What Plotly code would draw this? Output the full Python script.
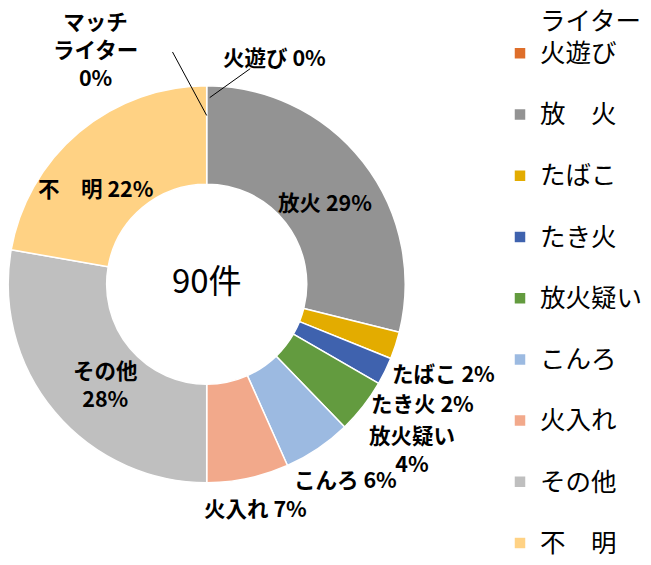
import plotly.graph_objects as go

# ---- data ----
categories = ["マッチライター", "火遊び", "放火", "たばこ", "たき火", "放火疑い", "こんろ", "火入れ", "その他", "不明"]
counts = [0, 0, 26, 2, 2, 4, 5, 6, 25, 20]
total_label = "90件"
# legend text as it appears (the first entry's top line is cut off in the picture)
legend_names = ["ライター", "火遊び", "放　火", "たばこ", "たき火", "放火疑い", "こんろ", "火入れ", "その他", "不　明"]
# slice label text
slice_names = ["マッチ<br>ライター", "火遊び", "放火", "たばこ", "たき火", "放火疑い", "こんろ", "火入れ", "その他", "不　明"]
slice_seps = ["<br>", " ", " ", " ", " ", "<br>", " ", " ", "<br>", " "]
colors = ["rgba(0,0,0,0)", "#DE6E2A", "#939393", "#E3AC00", "#3F62AE", "#639B3F",
          "#9CBAE1", "#F2A98B", "#BFBFBF", "#FFD284"]

FONT = "Noto Sans CJK JP"
W, H = 651, 565

# pie geometry (pixels)
cx_px, cy_px, r_px = 206.7, 284.2, 198.5
dom_x = [(cx_px - r_px) / W, (cx_px + r_px) / W]
dom_y = [(H - cy_px - r_px) / H, (H - cy_px + r_px) / H]

# label placement (pixel centres, as the reference places them)
label_xy = [(95, 49), (274, 57), (325, 201), (443, 372), (422, 402), (412, 448),
            (345, 478), (255, 507), (105, 383), (96, 187)]


def paper(px, py):
    return px / W, 1 - py / H


n = len(categories)
labels = []
for i, name in enumerate(legend_names):
    span = f'<span style="font-size:25.5px">{name}</span>'
    labels.append(span if i < 2 else "&nbsp;<br>" + span)

fig = go.Figure(go.Pie(
    labels=labels,
    values=counts,
    customdata=categories,
    hovertemplate="%{customdata}: %{value}件 (%{percent})<extra></extra>",
    sort=False,
    direction="clockwise",
    rotation=0,
    hole=0.504,
    domain=dict(x=dom_x, y=dom_y),
    marker=dict(colors=colors, line=dict(color="white", width=1.5)),
    textinfo="none",
    title=dict(text=total_label, position="middle center",
               font=dict(family=FONT, size=33, color="black")),
    automargin=False,
    showlegend=True,
))

total = sum(counts)
pct = [f"{round(100 * c / total)}%" for c in counts]
lab_font = dict(family=FONT, size=21.5, color="black", weight="bold")

annotations = []
for i in range(n):
    px, py = label_xy[i]
    x, y = paper(px, py)
    annotations.append(dict(x=x, y=y, xref="paper", yref="paper",
                            xanchor="center", yanchor="middle",
                            text=slice_names[i] + slice_seps[i] + pct[i],
                            showarrow=False, font=lab_font, align="center"))

# leader lines for the two 0% slices at the top of the ring
tip1 = paper(cx_px, cy_px - 0.85 * r_px)
tip2 = paper(cx_px + 3, cy_px - 0.94 * r_px)
annotations += [
    dict(x=tip1[0], y=tip1[1], xref="paper", yref="paper", text="", showarrow=True,
         arrowhead=0, arrowwidth=1, arrowcolor="black", ax=-35, ay=-65, standoff=0),
    dict(x=tip2[0], y=tip2[1], xref="paper", yref="paper", text="", showarrow=True,
         arrowhead=0, arrowwidth=1, arrowcolor="black", ax=42, ay=-30, standoff=0),
]

fig.update_layout(
    width=W, height=H,
    margin=dict(l=0, r=0, t=0, b=0),
    paper_bgcolor="white", plot_bgcolor="white",
    font=dict(family=FONT, color="black"),
    legend=dict(x=500 / W, xanchor="left", y=1 - 8 / H, yanchor="top",
                font=dict(family=FONT, size=22.4, color="black"),
                valign="bottom", bgcolor="rgba(0,0,0,0)", traceorder="normal"),
    annotations=annotations,
)

fig.write_html("out.html", config={"displayModeBar": False},
               post_script="document.body.style.margin='0';")
